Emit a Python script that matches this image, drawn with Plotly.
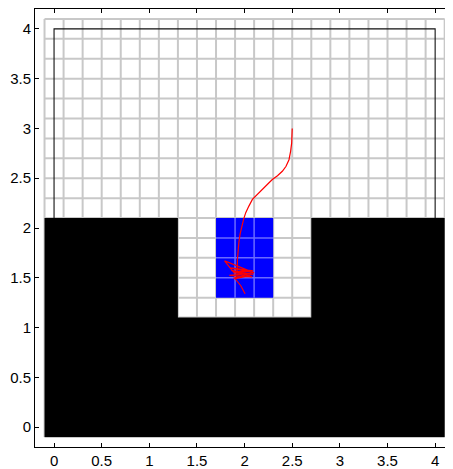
import numpy as np
import plotly.graph_objects as go

# ---- data ----
tick_vals = [0, 0.5, 1, 1.5, 2, 2.5, 3, 3.5, 4]
tick_text = ["0", "0.5", "1", "1.5", "2", "2.5", "3", "3.5", "4"]

cell_size = 0.2
grid_lo, grid_hi = -0.1, 4.1

# obstacle outline (polygon vertices)
obst_x = [-0.1, 1.3, 1.3, 2.7, 2.7, 4.1, 4.1, -0.1]
obst_y = [2.1, 2.1, 1.1, 1.1, 2.1, 2.1, -0.1, -0.1]

# goal region
goal_x = [1.7, 2.3]
goal_y = [1.3, 2.1]

# workspace boundary
bound_x = [0, 4]
bound_y = [0, 4]

# trajectory
path_x = [2.500, 2.499, 2.494, 2.483, 2.466, 2.435, 2.396, 2.345, 2.291, 2.238, 2.186,
          2.134, 2.082, 2.045, 2.012, 1.990, 1.970, 1.953, 1.940, 1.930, 1.925, 1.924,
          1.921, 1.921,
          2.09, 1.85, 2.10, 1.79, 1.89, 2.09, 1.86, 2.08, 1.84, 2.07, 1.88, 2.06, 1.90,
          1.96, 2.005]
path_y = [3.000, 2.930, 2.853, 2.770, 2.686, 2.620, 2.570, 2.525, 2.487, 2.437, 2.387,
          2.337, 2.287, 2.220, 2.154, 2.090, 2.020, 1.940, 1.855, 1.770, 1.689, 1.620,
          1.580, 1.560,
          1.57, 1.60, 1.55, 1.67, 1.55, 1.535, 1.575, 1.51, 1.525, 1.545, 1.495, 1.52, 1.49,
          1.42, 1.34]

# ---- figure ----
fig = go.Figure()
shapes = []
n_lines = int(round((grid_hi - grid_lo) / cell_size)) + 1
lines = np.linspace(grid_lo, grid_hi, n_lines)
GRID = "#c8c8c8"
for v in lines:
    shapes.append(dict(type="line", x0=v, x1=v, y0=grid_lo, y1=grid_hi,
                       line=dict(color=GRID, width=2), layer="below"))
    shapes.append(dict(type="line", x0=grid_lo, x1=grid_hi, y0=v, y1=v,
                       line=dict(color=GRID, width=2), layer="below"))
# boundary
shapes.append(dict(type="rect", x0=bound_x[0], x1=bound_x[1], y0=bound_y[0], y1=bound_y[1],
                   line=dict(color="#111111", width=1.1), layer="below"))
# obstacles
path = "M " + " L ".join(f"{a},{b}" for a, b in zip(obst_x, obst_y)) + " Z"
shapes.append(dict(type="path", path=path, fillcolor="black",
                   line=dict(width=0, color="black"), layer="below"))
# goal
shapes.append(dict(type="rect", x0=goal_x[0], x1=goal_x[1], y0=goal_y[0], y1=goal_y[1],
                   fillcolor="#0000ff", line=dict(width=0), layer="below"))
for v in lines:
    if goal_x[0] < v < goal_x[1] - 1e-9:
        shapes.append(dict(type="line", x0=v, x1=v, y0=goal_y[0], y1=goal_y[1],
                           line=dict(color="#6a6aff", width=1.5), layer="below"))
    if goal_y[0] < v < goal_y[1] - 1e-9:
        shapes.append(dict(type="line", x0=goal_x[0], x1=goal_x[1], y0=v, y1=v,
                           line=dict(color="#6a6aff", width=1.5), layer="below"))

fig.add_trace(go.Scatter(x=path_x, y=path_y, mode="lines",
                         line=dict(color="red", width=1.2), showlegend=False,
                         hoverinfo="skip"))

axis_common = dict(showgrid=False, zeroline=False, showline=True, linecolor="black",
                   linewidth=1, mirror="ticks", ticks="inside", ticklen=4,
                   tickcolor="black", tickvals=tick_vals, ticktext=tick_text,
                   tickfont=dict(family="Liberation Sans, Arial, sans-serif", size=15,
                                 color="black"))
# page body has an 8px margin -> figure sits at (8, 8)
fig.update_layout(
    width=445, height=461, autosize=False,
    margin=dict(l=27, r=0, t=1, b=20),
    paper_bgcolor="white", plot_bgcolor="white",
    shapes=shapes,
    xaxis=dict(range=[-0.2, -0.2 + 418 / 95.5], **axis_common),
    yaxis=dict(range=[-0.2, 4.2], **axis_common),
)
fig.write_html("out.html")
